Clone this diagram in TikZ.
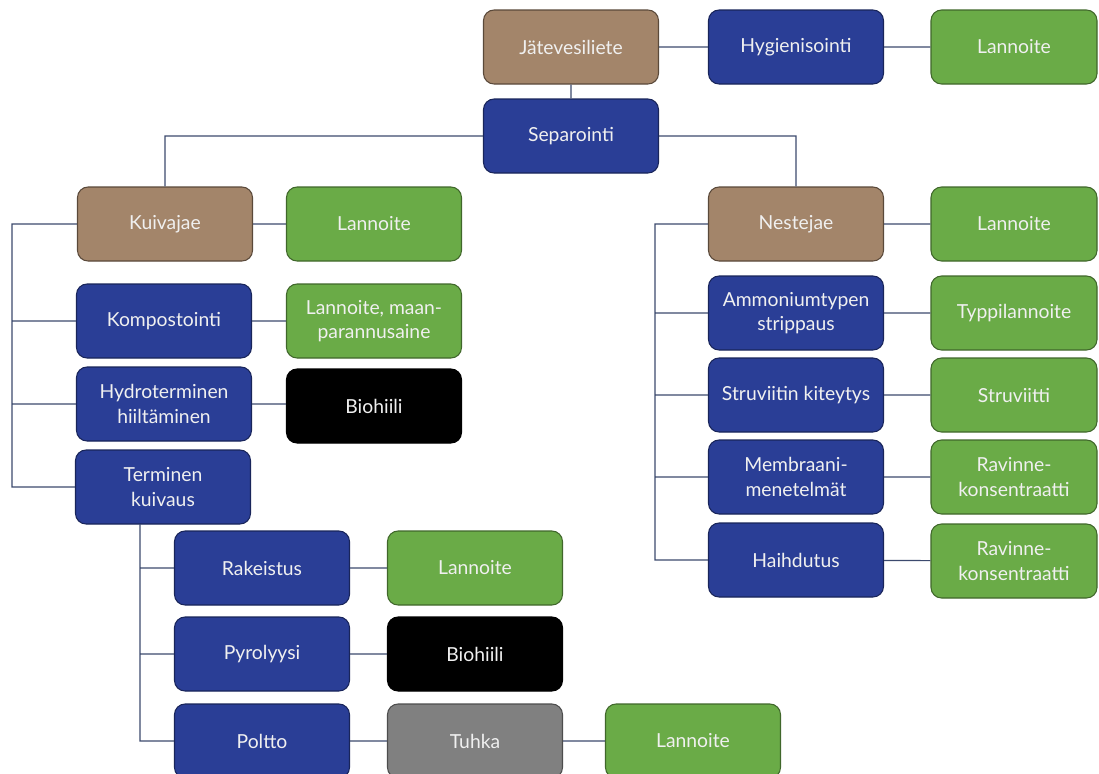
\documentclass[tikz,border=0pt]{standalone}
\usepackage{fontspec}
\setmainfont{Lato}
\usepackage{tikz}
\usetikzlibrary{arrows}

\definecolor{brownfill}{HTML}{A3856A}
\definecolor{bluefill}{HTML}{2A3E96}
\definecolor{greenfill}{HTML}{6AAB47}
\definecolor{grayfill}{HTML}{808080}
\definecolor{linecol}{HTML}{3C4A6E}

\begin{document}
\begin{tikzpicture}
	[x=0.03cm,y=-0.03cm,
		box/.style={rectangle,rounded corners=9pt,draw,line width=0.9pt,text=white!94!black,align=center,
			minimum width=5.25cm,minimum height=2.22cm,inner sep=2pt,font=\fontsize{16.5}{21}\selectfont},
		brown box/.style={box,fill=brownfill,draw=brownfill!55!black},
		blue box/.style={box,fill=bluefill,draw=bluefill!60!black},
		green box/.style={box,fill=greenfill,draw=greenfill!60!black},
		black box/.style={box,fill=black,draw=black},
		gray box/.style={box,fill=grayfill,draw=grayfill!60!black},
		narrow/.style={minimum width=4.98cm},
		link/.style={draw=linecol,line width=1pt}]

	\clip (0,0) rectangle (1099,773);
	\fill[white] (0,0) rectangle (1099,773);

	% top row
	\node[brown box] (jate) at (571,47) {Jätevesiliete};
	\node[blue box] (hyg) at (796,47) {Hygienisointi};
	\node[green box,narrow] (lanhyg) at (1014,47) {Lannoite};
	\node[blue box] (sep) at (571,136) {Separointi};

	% kuivajae
	\node[brown box] (kuiva) at (165,224) {Kuivajae};
	\node[green box] (lankuiva) at (374,224) {Lannoite};
	\node[blue box] (kompo) at (164,321) {Kompostointi};
	\node[green box] (lankompo) at (374,321) {Lannoite, maan-\\parannusaine};
	\node[blue box] (hydro) at (164,404) {Hydroterminen\\hiiltäminen};
	\node[black box] (biohydro) at (374,406) {Biohiili};
	\node[blue box] (termi) at (163,487) {Terminen\\kuivaus};

	\node[blue box] (rake) at (262,568) {Rakeistus};
	\node[green box] (lanrake) at (475,568) {Lannoite};
	\node[blue box] (pyro) at (262,654) {Pyrolyysi};
	\node[black box] (biopyro) at (475,654) {Biohiili};
	\node[blue box] (poltto) at (262,741) {Poltto};
	\node[gray box] (tuhka) at (475,741) {Tuhka};
	\node[green box] (lantuhka) at (693,741) {Lannoite};

	% nestejae
	\node[brown box] (neste) at (796,224) {Nestejae};
	\node[green box,narrow] (lanneste) at (1014,224) {Lannoite};
	\node[blue box] (ammo) at (796,313) {Ammoniumtypen\\strippaus};
	\node[green box,narrow] (typpi) at (1014,313) {Typpilannoite};
	\node[blue box] (struv) at (796,395) {Struviitin kiteytys};
	\node[green box,narrow] (struvi) at (1014,395) {Struviitti};
	\node[blue box] (membr) at (796,477) {Membraani-\\menetelmät};
	\node[green box,narrow] (ravmembr) at (1014,477) {Ravinne-\\konsentraatti};
	\node[blue box] (haihd) at (796,560) {Haihdutus};
	\node[green box,narrow] (ravhaihd) at (1014,561) {Ravinne-\\konsentraatti};

	\coordinate (lbus) at (12,224);
	\coordinate (tbus) at (140,524);
	\coordinate (rbus) at (655,224);

	\path[link]
	(jate) -- (hyg)
	(hyg) -- (lanhyg)
	(jate) -- (sep)
	(sep.west) -| (kuiva.north)
	(sep.east) -| (neste.north)
	(kuiva) -- (lankuiva)
	(kompo) -- (lankompo)
	(hydro.east) -- (biohydro.west |- hydro.east)
	(rake) -- (lanrake)
	(pyro) -- (biopyro)
	(poltto) -- (tuhka)
	(tuhka) -- (lantuhka)
	(neste) -- (lanneste)
	(ammo.east) -- (typpi.west |- ammo.east)
	(struv) -- (struvi)
	(membr) -- (ravmembr)
	(haihd) -- (ravhaihd)
	% side buses
	(kuiva.west) -- (lbus) |- (termi.west)
	(lbus) |- (kompo.west)
	(lbus) |- (hydro.west)
	(tbus) |- (poltto.west)
	(tbus) |- (rake.west)
	(tbus) |- (pyro.west)
	(neste.west) -- (rbus) |- (haihd.west)
	(rbus) |- (ammo.west)
	(rbus) |- (struv.west)
	(rbus) |- (membr.west)
	;
\end{tikzpicture}
\end{document}
